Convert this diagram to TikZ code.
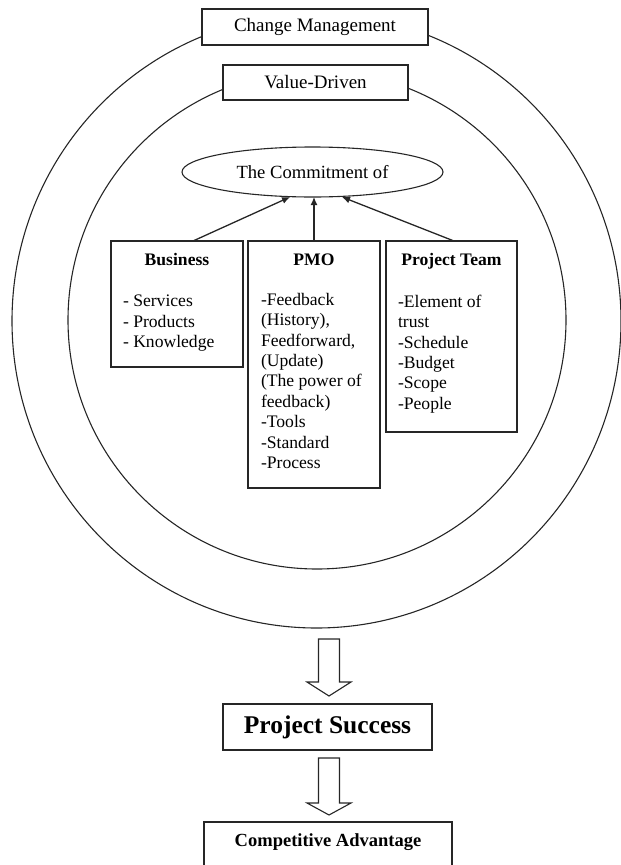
\documentclass[tikz,border=0pt]{standalone}
\usepackage{fontspec}
\setmainfont{Liberation Serif}
\usetikzlibrary{shapes.geometric,calc,arrows.meta}
\begin{document}
\begin{tikzpicture}[x=1pt,y=-1pt,
  every node/.style={inner sep=0pt, outer sep=0pt},
  ln/.style={line width=1.1pt, draw=black!85},
  lbl/.style={ln, fill=white, rectangle, font=\fontsize{19}{22}\selectfont},
  cbox/.style={ln, rectangle, anchor=north west},
  ttl/.style={anchor=base, font=\fontsize{17.6}{20.4}\selectfont\bfseries},
  lst/.style={anchor=north west, align=left, font=\fontsize{17.6}{20.4}\selectfont},
  con/.style={ln, line width=1.3pt, -{Latex[length=8pt,width=7pt]}},
  blk/.style={ln, fill=white, line join=miter}
]
\useasboundingbox (0,0) rectangle (621,865);
% circles
\node[ln, ellipse, minimum width=609, minimum height=614] (outer) at (316.5,321) {};
\node[ln, circle, minimum size=498] (inner) at (317,320) {};
% labels on circles
\node[lbl, minimum width=226, minimum height=36] (cm) at (315,27) {Change Management};
\node[lbl, minimum width=185, minimum height=35] (vd) at (315.5,82.5) {Value-Driven};
% commitment ellipse
\node[ln, ellipse, minimum width=261, minimum height=50, font=\fontsize{18.6}{21}\selectfont] (com) at (312.5,172) {The Commitment of};
% boxes
\node[cbox, minimum width=132, minimum height=126] (bus) at (111,241) {};
\node[cbox, minimum width=132, minimum height=247] (pmo) at (248,241) {};
\node[cbox, minimum width=131, minimum height=191] (pt) at (386,241) {};
\node[ttl] (bust) at ($(bus.north)+(0,24)$) {Business};
\node[ttl] (pmot) at ($(pmo.north)+(0,24)$) {PMO};
\node[ttl] (ptt) at ($(pt.north)+(0,24)$) {Project Team};
\node[lst] (busl) at ($(bus.north west)+(12,54)$) {- Services\\- Products\\- Knowledge};
\node[lst] (pmol) at ($(pmo.north west)+(13,52)$) {-Feedback\\(History),\\Feedforward,\\(Update)\\(The power of\\feedback)\\-Tools\\-Standard\\-Process};
\node[lst] (ptl) at ($(pt.north west)+(12,54)$) {-Element of\\trust\\-Schedule\\-Budget\\-Scope\\-People};
% connectors
\draw[con] ($(bus.north)+(16,0)$) -- ($(com.south)+(-22.5,0)$);
\draw[con] (pmo.north) -- ($(com.south)+(1.5,0)$);
\draw[con] ($(pt.north)+(2.5,0)$) -- ($(com.south)+(29.5,0)$);
% outcome boxes
\node[ln, rectangle, minimum width=209, minimum height=46, font=\fontsize{25.5}{28}\selectfont\bfseries] (ps) at (327.5,727) {Project Success};
\node[ln, rectangle, anchor=north, minimum width=248, minimum height=70] (ca) at (328,822) {};
\node[font=\fontsize{18.5}{21}\selectfont\bfseries] (cat) at ($(ca.north)+(0,20)$) {Competitive Advantage};
% block arrows
\draw[blk] ($(ps.north)+(1.5,-8)$) -- ++(-22,-14) -- ++(11.5,0) -- ++(0,-43) -- ++(21,0) -- ++(0,43) -- ++(11.5,0) -- cycle;
\draw[blk] ($(ca.north)+(1,-7)$) -- ++(-22,-12) -- ++(11.5,0) -- ++(0,-45) -- ++(21,0) -- ++(0,45) -- ++(11.5,0) -- cycle;
\end{tikzpicture}
\end{document}
